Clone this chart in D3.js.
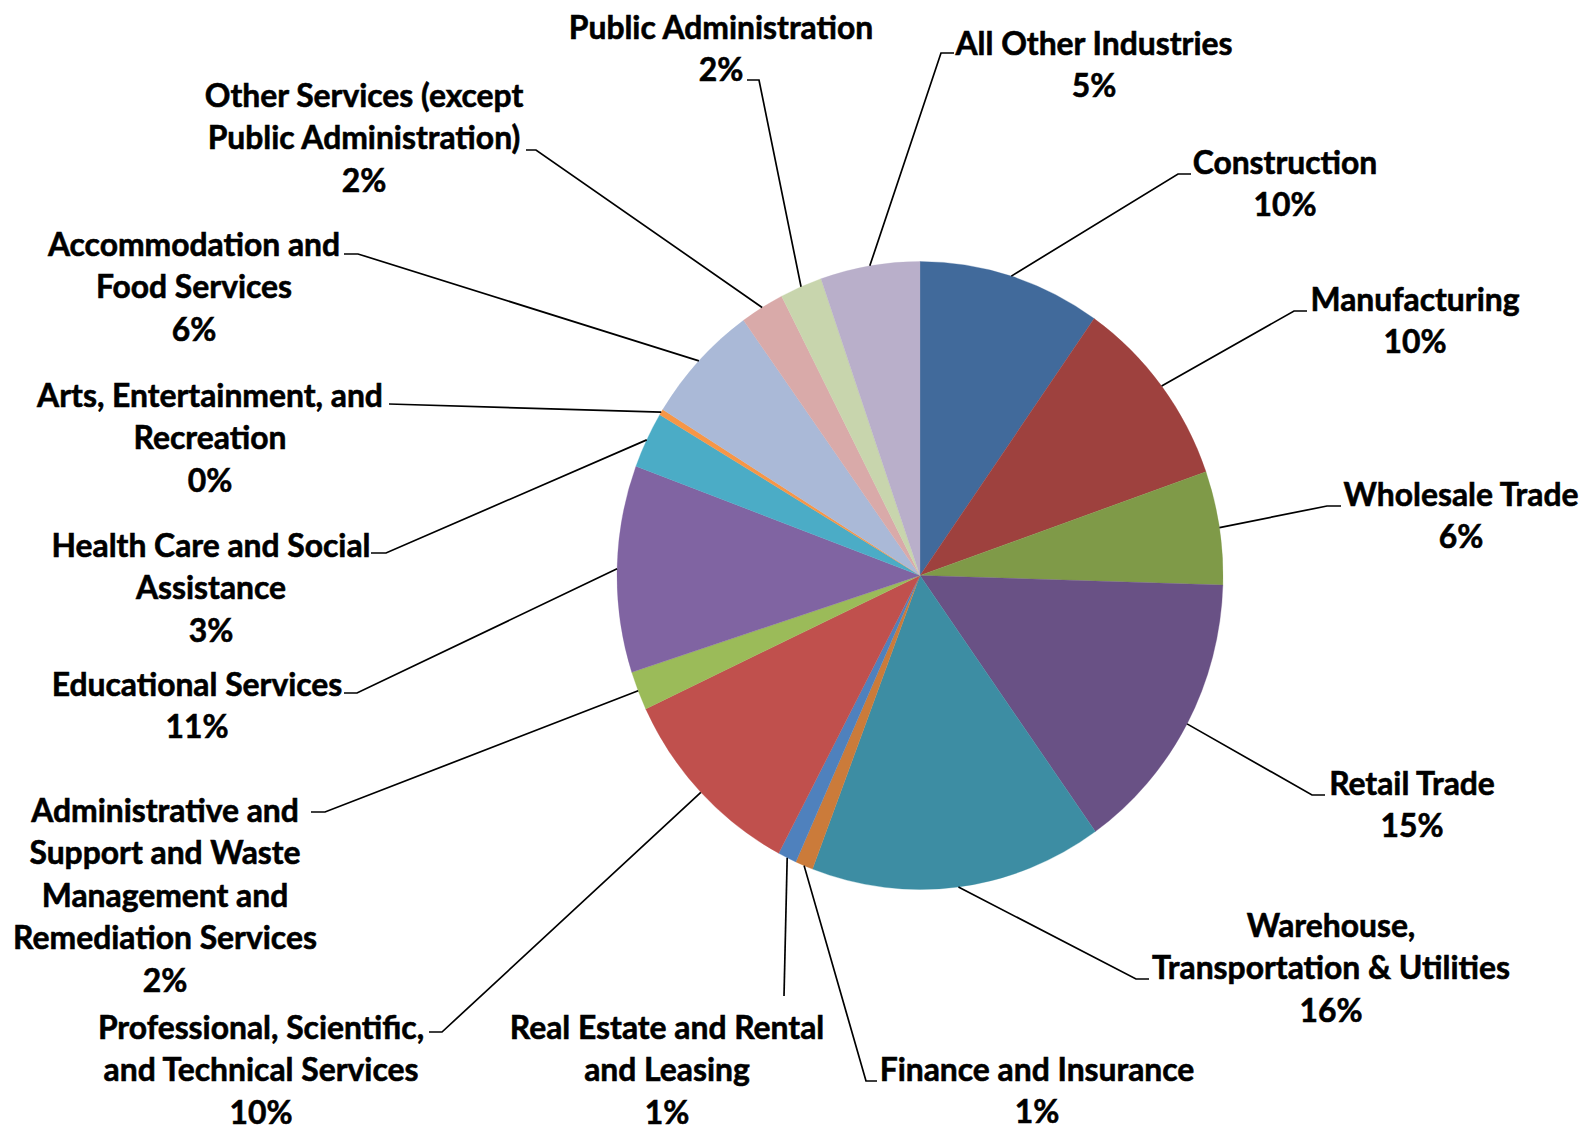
<!DOCTYPE html>
<html>
<head>
<meta charset="utf-8">
<script src="https://cdn.jsdelivr.net/npm/d3@7"></script>
<style>
  html, body { margin: 0; padding: 0; background: #fff; }
  svg { display: block; }
</style>
</head>
<body>
<svg id="chart" width="1585" height="1131"></svg>
<script>
// ---- data ----
const categories = [
  "Construction", "Manufacturing", "Wholesale Trade", "Retail Trade",
  "Warehouse, Transportation & Utilities", "Finance and Insurance",
  "Real Estate and Rental and Leasing", "Professional, Scientific, and Technical Services",
  "Administrative and Support and Waste Management and Remediation Services",
  "Educational Services", "Health Care and Social Assistance",
  "Arts, Entertainment, and Recreation", "Accommodation and Food Services",
  "Other Services (except Public Administration)", "Public Administration",
  "All Other Industries"
];
const values = [9.75, 9.9, 5.85, 14.7, 15.6, 0.95, 1.0, 10.3, 2.0, 10.65, 2.9, 0.3, 6.25, 2.35, 2.25, 5.3];
const labelLines = [
  ["Construction"],
  ["Manufacturing"],
  ["Wholesale Trade"],
  ["Retail Trade"],
  ["Warehouse,", "Transportation & Utilities"],
  ["Finance and Insurance"],
  ["Real Estate and Rental", "and Leasing"],
  ["Professional, Scientific,", "and Technical Services"],
  ["Administrative and", "Support and Waste", "Management and", "Remediation Services"],
  ["Educational Services"],
  ["Health Care and Social", "Assistance"],
  ["Arts, Entertainment, and", "Recreation"],
  ["Accommodation and", "Food Services"],
  ["Other Services (except", "Public Administration)"],
  ["Public Administration"],
  ["All Other Industries"]
];
const colors = [
  "#416a9b", "#9e413e", "#7f9a48", "#695185", "#3d8da3", "#cb7b3a",
  "#4f81bd", "#c0504d", "#9bbb59", "#8064a2", "#4bacc6", "#f79646",
  "#aab9d7", "#d9aaa9", "#c8d5ad", "#b9afca"
];

// ---- layout (label placement: text centre x, first baseline y, leader elbow & end) ----
const labelLayout = [
  {cx: 1285, by: 174,  ex: 1178, ey: 174,  hx: 1191},
  {cx: 1415, by: 311,  ex: 1294, ey: 311,  hx: 1307},
  {cx: 1461, by: 506,  ex: 1327, ey: 506,  hx: 1341},
  {cx: 1412, by: 795,  ex: 1312, ey: 795,  hx: 1325},
  {cx: 1331, by: 937,  ex: 1136, ey: 979,  hx: 1149},
  {cx: 1037, by: 1081, ex: 866,  ey: 1081, hx: 877},
  {cx: 667,  by: 1039, ex: 784,  ey: 996,  hx: 784},
  {cx: 261,  by: 1039, ex: 442,  ey: 1032, hx: 429},
  {cx: 165,  by: 822,  ex: 325,  ey: 812,  hx: 311},
  {cx: 197,  by: 696,  ex: 357,  ey: 693,  hx: 344},
  {cx: 211,  by: 557,  ex: 386,  ey: 553,  hx: 371},
  {cx: 210,  by: 407,  ex: 389,  ey: 404,  hx: 389},
  {cx: 194,  by: 256,  ex: 358,  ey: 254,  hx: 344},
  {cx: 364,  by: 107,  ex: 536,  ey: 150,  hx: 526},
  {cx: 721,  by: 39,   ex: 759,  ey: 80,   hx: 747},
  {cx: 1094, by: 55,   ex: 941,  ey: 53,   hx: 954}
];

const cx0 = 920, cy0 = 575.5;
const rx = 303, ry = 314;
const ky = ry / rx;
const lineGap = 42.5;
const fontSize = 33;
const textScaleX = 0.965;

const svg = d3.select("#chart");
const total = d3.sum(values);
const color = d3.scaleOrdinal(categories, colors);

const pie = d3.pie().value(d => d).sort(null).startAngle(0).endAngle(2 * Math.PI);
const arcs = pie(values);
const arc = d3.arc().innerRadius(0).outerRadius(rx);

const g = svg.append("g").attr("transform", `translate(${cx0},${cy0}) scale(1,${ky})`);
g.selectAll("path.slice")
  .data(arcs)
  .join("path")
  .attr("class", "slice")
  .attr("d", arc)
  .attr("fill", (d, i) => color(categories[i]))
  .attr("stroke", (d, i) => color(categories[i]))
  .attr("stroke-width", 0.3);

// leader lines
const leaders = svg.append("g");
arcs.forEach((a, i) => {
  const m = (a.startAngle + a.endAngle) / 2;
  const sx = cx0 + rx * Math.sin(m);
  const sy = cy0 - ry * Math.cos(m);
  const L = labelLayout[i];
  leaders.append("polyline")
    .attr("points", `${sx},${sy} ${L.ex},${L.ey} ${L.hx},${L.ey}`)
    .attr("fill", "none")
    .attr("stroke", "#000")
    .attr("stroke-width", 1.7);
});

// labels
const labels = svg.append("g")
  .attr("font-family", "Lato, 'Open Sans', sans-serif")
  .attr("font-weight", "bold")
  .attr("font-size", fontSize)
  .attr("fill", "#000")
  .attr("stroke", "#000")
  .attr("stroke-width", 0.6)
  .attr("text-anchor", "middle");

arcs.forEach((a, i) => {
  const L = labelLayout[i];
  const lines = labelLines[i].concat([Math.round(values[i] / total * 100) + "%"]);
  const lg = labels.append("g").attr("transform", `translate(${L.cx},0) scale(${textScaleX},1)`);
  lines.forEach((t, j) => {
    lg.append("text").attr("x", 0).attr("y", L.by + j * lineGap).text(t);
  });
});
</script>
</body>
</html>
